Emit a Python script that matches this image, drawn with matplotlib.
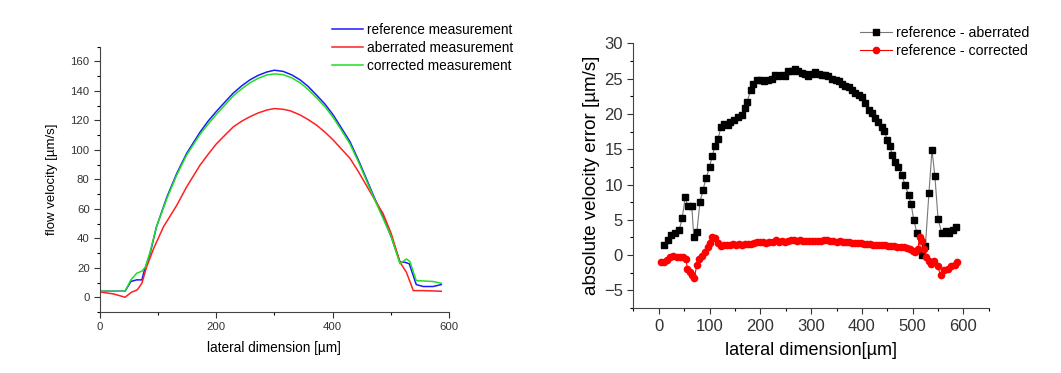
import matplotlib
matplotlib.use("Agg")
import matplotlib.pyplot as plt
from matplotlib.ticker import MultipleLocator

plt.rcParams["font.family"] = ["Liberation Sans", "DejaVu Sans"]

# ---- left panel: velocity profiles ----
ref_x = [3, 43, 53, 63, 72, 76, 86, 97, 115, 132, 149, 172, 186, 200, 215, 229, 244,
         258, 272, 287, 300, 315, 330, 344, 358, 372, 387, 401, 415, 430, 444, 458, 472,
         487, 501, 516, 524, 532, 544, 556, 573, 587]
ref_v = [4.1, 4.1, 10.7, 11.8, 11.8, 18, 29.5, 47.7, 68, 84, 97.6, 112, 119.5, 126,
         132.5, 138.4, 143.5, 147.5, 150.5, 152.8, 154, 153.2, 150.8, 147.5, 143, 137.3,
         131, 123.7, 115, 105.5, 93.5, 80.6, 67.5, 54.5, 40.9, 23.8, 23.8, 22.7, 8.6, 7.3,
         7.3, 8.6]

cor_x = [3, 43, 53, 63, 72, 78, 86, 97, 115, 132, 149, 172, 186, 200, 215, 229, 244,
         258, 272, 287, 300, 315, 330, 344, 358, 372, 387, 401, 415, 430, 444, 458, 472,
         487, 501, 516, 527, 533, 544, 573, 587]
cor_v = [4.1, 4.1, 11.8, 16.3, 17.7, 20.4, 30.6, 47.7, 67, 83, 96.5, 110.5, 117.5, 124,
         130.5, 136.5, 141.5, 145.5, 148.5, 150.8, 151.5, 151, 148.8, 145.5, 141, 135.5,
         129.2, 122, 113.5, 104, 92.3, 79.5, 66.5, 53.5, 41, 22.7, 26, 24.3, 11.3, 10.7,
         9.5]

abr_x = [3, 23, 43, 54, 64, 72, 80, 92, 109, 132, 149, 172, 186, 200, 215, 229, 244,
         258, 272, 287, 300, 315, 327, 344, 358, 372, 387, 401, 415, 430, 444, 458, 472,
         487, 501, 516, 527, 539, 556, 587]
abr_v = [3.4, 2.3, 0, 3.4, 5, 9.5, 20.4, 32.9, 47.7, 62.4, 74.9, 89.6, 97, 104, 110,
         115.5, 119.5, 122.5, 125, 127, 128, 127.5, 126.5, 123.7, 120.5, 116.9, 112,
         106.7, 100.7, 94.2, 85.5, 76, 66.5, 56.7, 43.1, 23.8, 17, 4.5, 4.5, 4.1]

# ---- right panel: absolute velocity error ----
ea_x = [10.6, 18.5, 25, 32, 40, 46, 52, 57, 65, 69, 75, 81, 87, 93, 100, 105, 110.6,
        116.6, 122.5, 129, 136, 141, 149, 155.6, 164, 169.5, 174, 181, 186, 193, 200.7,
        207, 215, 222, 228.5, 235, 242, 248, 255, 261.6, 268, 275, 281.5, 288, 293, 301,
        308, 314.6, 321, 328, 334, 341, 348, 354, 361, 367.5, 374, 381, 387, 394, 400.7,
        407, 414, 420.5, 426, 432, 439, 444, 450, 455, 460, 465.6, 472, 479, 485, 492,
        497, 502, 508.6, 518.5, 525, 532, 538, 543.7, 550, 557, 565, 571.5, 579.5, 586]
ea_v = [1.5, 2.2, 2.8, 3.2, 3.5, 5.2, 8.2, 6.9, 6.9, 2.5, 3.3, 7.5, 9.2, 10.9, 12.5,
        14, 15.4, 16.5, 18.1, 18.6, 18.4, 18.8, 19.2, 19.6, 19.8, 20.9, 21.7, 23.4, 24.3,
        24.8, 24.8, 24.6, 24.8, 24.9, 25.5, 25.4, 25.5, 25.4, 26.1, 26.1, 26.3, 26.1,
        25.8, 25.6, 25.4, 25.7, 25.9, 25.6, 25.5, 25.5, 25.4, 25.0, 24.8, 24.6, 24.3,
        24.0, 23.8, 23.4, 22.9, 22.7, 22.4, 21.5, 20.5, 20.1, 19.4, 18.8, 18.2, 17.6,
        16.3, 15.4, 14.2, 13.2, 12.5, 11.3, 9.9, 8.5, 7.2, 5.0, 3.1, 0, 1.3, 8.8, 14.9,
        11.2, 5.1, 3.2, 3.4, 3.2, 3.5, 4.0]

ec_x = [5, 10.6, 16.5, 22, 28.5, 35, 42, 48, 53.6, 56, 61.6, 66, 69.5, 75, 80, 85, 91,
        96.7, 101, 105, 111, 116.6, 122.5, 129, 135, 140, 146, 152, 158, 164, 170, 176,
        182, 188, 194, 200, 206, 212, 218, 224, 230, 236, 242, 248, 254, 260, 266, 272,
        278, 284, 290, 296, 302, 308, 314, 320, 326, 332, 338, 344, 350, 356, 362, 368,
        374, 380, 386, 392, 398, 404, 410, 416, 422, 428, 434, 440, 446, 452, 458, 464,
        470, 476, 482, 488, 494, 500, 505, 510, 514, 519, 523, 527, 532, 537, 542, 549,
        555, 562, 569, 575, 583, 588]
ec_v = [-0.95, -1.0, -0.7, -0.25, -0.15, -0.3, -0.3, -0.3, -0.5, -1.9, -2.4, -2.8, -3.3,
        -1.4, -0.5, -0.15, 0.5, 1.2, 1.7, 2.5, 2.4, 1.65, 1.3, 1.4, 1.45, 1.5, 1.55, 1.5,
        1.55, 1.5, 1.6, 1.55, 1.6, 1.7, 1.85, 1.85, 1.8, 1.75, 1.8, 1.9, 2.1, 1.9, 1.95,
        1.9, 2.0, 2.2, 2.1, 2.0, 2.1, 2.0, 2.0, 1.95, 2.0, 2.05, 2.0, 2.0, 2.1, 2.15, 2.0,
        1.95, 1.9, 1.95, 1.85, 1.8, 1.85, 1.75, 1.7, 1.7, 1.65, 1.6, 1.6, 1.55, 1.5, 1.5,
        1.45, 1.45, 1.4, 1.35, 1.3, 1.3, 1.2, 1.15, 1.1, 0.95, 0.8, 0.6, 0.5, 0.9, 2.6,
        2.0, 0.9, -0.3, -0.8, -1.2, -0.9, -1.6, -2.8, -2.1, -2.0, -1.6, -1.4, -0.95]

fig = plt.figure(figsize=(10.61, 3.73), dpi=100)

ax1 = fig.add_axes([0.0943, 0.1635, 0.3287, 0.7115])
ax1.plot(ref_x, ref_v, color="#1a1aff", lw=1.1, label="reference measurement")
ax1.plot(abr_x, abr_v, color="#ff2020", lw=1.1, label="aberrated measurement")
ax1.plot(cor_x, cor_v, color="#22dd22", lw=1.1, label="corrected measurement")
ax1.set_xlim(0, 600)
ax1.set_ylim(-10, 170)
ax1.xaxis.set_major_locator(MultipleLocator(200))
ax1.xaxis.set_minor_locator(MultipleLocator(100))
ax1.yaxis.set_major_locator(MultipleLocator(20))
ax1.yaxis.set_minor_locator(MultipleLocator(10))
ax1.set_xlabel("lateral dimension [µm]", fontsize=9.8, labelpad=6)
ax1.set_ylabel("flow velocity [µm/s]", fontsize=9.5, labelpad=9)
ax1.tick_params(which="major", direction="out", length=4, width=0.8, labelsize=8.2, colors="#333333")
ax1.tick_params(which="minor", direction="out", length=2.5, width=0.8)
for s in ["top", "right"]:
    ax1.spines[s].set_visible(False)
for s in ["left", "bottom"]:
    ax1.spines[s].set_color("#444444")
ax1.legend(loc="upper left", bbox_to_anchor=(0.313, 0.938), bbox_transform=fig.transFigure,
           frameon=False, fontsize=9.8, handlelength=2.3, handletextpad=0.3,
           labelspacing=0.28, borderpad=0, borderaxespad=0)

ax2 = fig.add_axes([0.597, 0.174, 0.335, 0.71])
ax2.plot(ea_x, ea_v, color="#777777", lw=0.8, marker="s", ms=4.5, mfc="black", mec="black",
         label="reference - aberrated")
ax2.plot(ec_x, ec_v, color="red", lw=0.8, marker="o", ms=4.5, mfc="red", mec="red",
         label="reference - corrected")
ax2.set_xlim(-50, 650)
ax2.set_ylim(-7.5, 30)
ax2.xaxis.set_major_locator(MultipleLocator(100))
ax2.xaxis.set_minor_locator(MultipleLocator(50))
ax2.yaxis.set_major_locator(MultipleLocator(5))
ax2.yaxis.set_minor_locator(MultipleLocator(2.5))
ax2.set_xlabel("lateral dimension[µm]", fontsize=13, labelpad=6)
ax2.set_ylabel("absolute velocity error [µm/s]", fontsize=13.5, labelpad=3)
ax2.tick_params(which="major", direction="out", length=4, width=0.8, labelsize=12, colors="#333333")
ax2.tick_params(which="minor", direction="out", length=2.5, width=0.8)
for s in ["top", "right"]:
    ax2.spines[s].set_visible(False)
for s in ["left", "bottom"]:
    ax2.spines[s].set_color("#444444")
ax2.legend(loc="upper left", bbox_to_anchor=(0.811, 0.93), bbox_transform=fig.transFigure,
           frameon=False, fontsize=10.2, handlelength=2.2, handletextpad=0.3,
           labelspacing=0.25, borderpad=0, borderaxespad=0)

fig.savefig("out.png", dpi=100)
